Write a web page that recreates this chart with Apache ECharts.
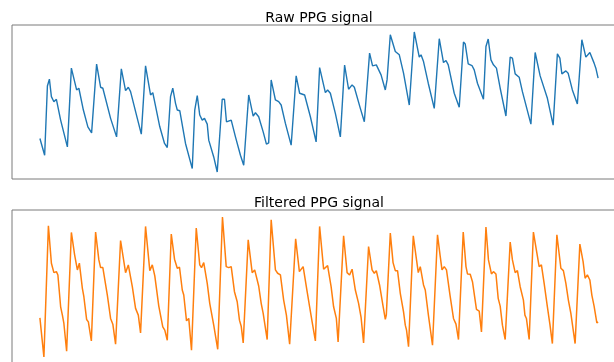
<!DOCTYPE html>
<html>
<head>
<meta charset="utf-8">
<script src="https://cdn.jsdelivr.net/npm/echarts@6/dist/echarts.min.js"></script>
<style>
  html, body { margin: 0; padding: 0; background: #fff; overflow: hidden; }
  #chart { width: 640px; height: 380px; }
</style>
</head>
<body>
<div id="chart"></div>
<script>
// Raw PPG trace: time (s) and amplitude (a.u.)
const rawTime = [
  0.00, 0.19, 0.30, 0.38, 0.46, 0.56, 0.66, 0.83, 1.10, 1.26, 1.47, 1.56, 1.74, 1.92, 2.07,
  2.27, 2.43, 2.52, 2.83, 3.07, 3.26, 3.43, 3.54, 3.63, 3.90, 4.06, 4.23, 4.43, 4.52, 4.80,
  4.99, 5.10, 5.23, 5.32, 5.43, 5.50, 5.60, 5.83, 6.10, 6.20, 6.30, 6.40, 6.50, 6.59, 6.70,
  6.76, 6.96, 7.10, 7.30, 7.39, 7.47, 7.66, 7.83, 8.03, 8.16, 8.36, 8.54, 8.63, 8.76, 8.94,
  9.07, 9.16, 9.26, 9.34, 9.43, 9.56, 9.66, 9.83, 10.06, 10.26, 10.40, 10.47, 10.60, 10.83, 11.06,
  11.20, 11.43, 11.52, 11.63, 11.83, 12.03, 12.20, 12.36, 12.50, 12.59, 12.83, 12.99, 13.20, 13.32, 13.47,
  13.66, 13.83, 13.90, 14.03, 14.10, 14.23, 14.39, 14.56, 14.79, 14.99, 15.19, 15.26, 15.36, 15.55, 15.79,
  15.99, 16.16, 16.26, 16.35, 16.59, 16.79, 16.96, 17.03, 17.15, 17.30, 17.39, 17.52, 17.76, 17.86, 17.95,
  18.06, 18.16, 18.28, 18.43, 18.66, 18.83, 18.92, 19.03, 19.19, 19.32, 19.66, 19.83, 20.03, 20.10, 20.32,
  20.55, 20.72, 20.82, 20.90, 21.06, 21.15, 21.32, 21.52, 21.70, 21.86, 22.02, 22.10, 22.19, 22.26, 22.35
];
const rawValue = [
  41.7, 25.0, 94.0, 100.7, 83.3, 78.3, 80.7, 60.0, 33.3, 111.7, 90.0, 91.7, 70.0, 53.3, 47.3,
  115.7, 92.7, 91.7, 61.7, 43.3, 111.0, 89.3, 92.7, 88.3, 61.7, 46.0, 114.0, 85.0, 87.3, 53.3,
  36.7, 32.7, 83.3, 91.7, 76.7, 70.0, 69.3, 36.7, 11.7, 70.0, 84.3, 65.0, 60.0, 61.7, 56.0,
  40.0, 23.3, 8.3, 80.7, 80.7, 58.3, 60.0, 43.3, 25.0, 15.0, 85.0, 64.0, 67.3, 63.3, 48.3,
  36.0, 37.3, 100.0, 100.7, 80.0, 78.3, 75.0, 56.7, 35.0, 104.0, 86.7, 87.3, 85.0, 63.3, 38.3,
  112.3, 87.3, 90.0, 86.7, 66.7, 43.3, 114.7, 90.7, 95.0, 92.7, 71.7, 58.3, 126.7, 114.0, 115.0,
  105.0, 90.0, 100.0, 145.0, 144.0, 128.3, 125.0, 106.7, 75.0, 147.7, 122.7, 125.0, 118.3, 96.7, 71.7,
  141.0, 117.3, 119.3, 115.0, 86.7, 72.7, 137.7, 135.7, 116.0, 114.3, 110.0, 96.7, 80.7, 133.3, 140.7,
  120.0, 115.0, 111.7, 91.7, 64.0, 122.7, 121.7, 106.0, 102.7, 88.3, 56.0, 127.3, 104.0, 104.3, 81.7,
  55.0, 126.0, 121.7, 106.0, 109.0, 106.7, 90.0, 76.0, 140.0, 122.7, 127.3, 125.7, 116.7, 111.7, 101.7
];

// Band-pass filtered PPG trace: time (s) and normalised amplitude
const filtTime = [
  0.00, 0.07, 0.16, 0.34, 0.46, 0.56, 0.66, 0.72, 0.83, 0.90, 0.96, 1.07, 1.26, 1.39, 1.50,
  1.58, 1.70, 1.76, 1.87, 1.94, 2.06, 2.23, 2.36, 2.43, 2.52, 2.70, 2.83, 2.92, 3.03, 3.23,
  3.34, 3.43, 3.54, 3.70, 3.83, 3.94, 4.03, 4.23, 4.40, 4.50, 4.60, 4.76, 4.92, 5.00, 5.10,
  5.26, 5.39, 5.50, 5.59, 5.70, 5.76, 5.87, 5.96, 6.07, 6.26, 6.40, 6.47, 6.56, 6.70, 6.80,
  6.96, 7.03, 7.12, 7.31, 7.46, 7.56, 7.66, 7.79, 7.90, 7.99, 8.06, 8.14, 8.34, 8.50, 8.60,
  8.76, 8.86, 8.94, 9.00, 9.10, 9.26, 9.43, 9.52, 9.63, 9.76, 9.87, 10.00, 10.24, 10.39, 10.47,
  10.54, 10.70, 10.80, 10.90, 11.03, 11.20, 11.36, 11.43, 11.52, 11.66, 11.76, 11.87, 11.94, 12.16, 12.30,
  12.40, 12.50, 12.63, 12.76, 12.86, 12.96, 13.16, 13.30, 13.39, 13.47, 13.60, 13.74, 13.83, 13.87, 14.03,
  14.14, 14.23, 14.32, 14.43, 14.56, 14.63, 14.68, 14.76, 14.95, 15.08, 15.15, 15.23, 15.36, 15.43, 15.55,
  15.60, 15.72, 15.92, 16.03, 16.10, 16.19, 16.28, 16.42, 16.56, 16.66, 16.76, 16.95, 17.06, 17.12, 17.23,
  17.32, 17.48, 17.59, 17.68, 17.86, 17.96, 18.08, 18.16, 18.26, 18.35, 18.43, 18.52, 18.63, 18.83, 18.92,
  19.03, 19.12, 19.23, 19.36, 19.42, 19.48, 19.59, 19.76, 19.90, 19.99, 20.08, 20.19, 20.32, 20.42, 20.52,
  20.70, 20.86, 20.96, 21.06, 21.16, 21.26, 21.32, 21.43, 21.62, 21.75, 21.83, 21.92, 22.02, 22.10, 22.19,
  22.30, 22.35
];
const filtValue = [
  -0.614, -0.606, -1.394, 1.220, 0.474, 0.286, 0.306, 0.240, -0.394, -0.560, -0.726, -1.280, 1.086, 0.640, 0.340,
  0.474, -0.026, -0.194, -0.646, -0.694, -1.074, 1.094, 0.540, 0.386, 0.386, -0.160, -0.626, -0.740, -1.140, 0.926,
  0.574, 0.286, 0.440, 0.006, -0.426, -0.560, -0.914, 1.206, 0.326, 0.440, 0.220, -0.380, -0.794, -0.860, -1.060,
  1.054, 0.554, 0.374, 0.394, -0.060, -0.160, -0.674, -0.626, -1.260, 1.174, 0.440, 0.386, 0.486, 0.074, -0.326,
  -0.760, -0.794, -1.240, 1.394, 0.406, 0.386, 0.406, -0.094, -0.294, -0.660, -0.780, -1.114, 0.940, 0.286, 0.340,
  0.020, -0.326, -0.526, -0.560, -1.046, 1.340, 0.340, 0.274, 0.240, -0.260, -0.560, -1.140, 0.960, 0.306, 0.340,
  0.406, -0.094, -0.394, -0.694, -1.074, 1.206, 0.354, 0.374, 0.426, 0.006, -0.394, -0.626, -1.094, 1.020, 0.286,
  0.240, 0.354, -0.060, -0.326, -0.606, -1.114, 0.806, 0.340, 0.274, 0.326, 0.040, -0.380, -0.646, -0.560, 1.074,
  0.486, 0.326, 0.326, -0.126, -0.494, -0.760, -0.860, -1.190, 1.020, 0.540, 0.286, 0.406, 0.040, -0.060, -0.540,
  -0.560, -1.160, 1.040, 0.606, 0.340, 0.406, 0.340, -0.160, -0.626, -0.740, -1.046, 1.094, 0.406, 0.260, 0.254,
  0.106, -0.446, -0.480, -0.894, 1.194, 0.540, 0.260, 0.306, 0.260, -0.226, -0.380, -0.760, -1.046, 0.894, 0.540,
  0.286, 0.326, 0.006, -0.260, -0.560, -0.626, -1.046, 1.094, 0.674, 0.406, 0.440, 0.074, -0.394, -0.740, -1.126,
  1.040, 0.374, 0.326, 0.074, -0.260, -0.526, -0.560, -1.126, 0.854, 0.506, 0.174, 0.240, 0.140, -0.160, -0.380,
  -0.714, -0.694
];

const titles = ['Raw PPG signal', 'Filtered PPG signal'];

// Axis limits padded by 5% of the data range on each side
function padded(arr) {
  const lo = Math.min(...arr), hi = Math.max(...arr);
  const m = (hi - lo) * 0.05;
  return { min: lo - m, max: hi + m };
}
const zip = (a, b) => a.map((v, i) => [v, b[i]]);

const xr0 = padded(rawTime), yr0 = padded(rawValue);
const xr1 = padded(filtTime), yr1 = padded(filtValue);

function hiddenAxis(idx, r) {
  return {
    type: 'value', gridIndex: idx, min: r.min, max: r.max, show: false,
    axisLine: { show: false }, axisTick: { show: false },
    axisLabel: { show: false }, splitLine: { show: false }
  };
}

const titleStyle = { fontFamily: 'DejaVu Sans', fontSize: 14, fontWeight: 'normal', color: '#000' };

const chart = echarts.init(document.getElementById('chart'), null, { renderer: 'canvas' });
chart.setOption({
  animation: false,
  backgroundColor: '#ffffff',
  title: [
    { text: titles[0], left: 319, top: 11, padding: 0, textAlign: 'center', textStyle: titleStyle },
    { text: titles[1], left: 319, top: 196, padding: 0, textAlign: 'center', textStyle: titleStyle }
  ],
  grid: [
    { left: 12, top: 25, width: 614, height: 154, show: true, borderColor: '#7a7a7a', borderWidth: 1, backgroundColor: 'transparent' },
    { left: 12, top: 210, width: 614, height: 154, show: true, borderColor: '#7a7a7a', borderWidth: 1, backgroundColor: 'transparent' }
  ],
  xAxis: [hiddenAxis(0, xr0), hiddenAxis(1, xr1)],
  yAxis: [hiddenAxis(0, yr0), hiddenAxis(1, yr1)],
  series: [
    { type: 'line', xAxisIndex: 0, yAxisIndex: 0, data: zip(rawTime, rawValue),
      showSymbol: false, lineStyle: { color: '#1f77b4', width: 1.4 }, itemStyle: { color: '#1f77b4' } },
    { type: 'line', xAxisIndex: 1, yAxisIndex: 1, data: zip(filtTime, filtValue),
      showSymbol: false, lineStyle: { color: '#ff7f0e', width: 1.5 }, itemStyle: { color: '#ff7f0e' } }
  ]
});
</script>
</body>
</html>
